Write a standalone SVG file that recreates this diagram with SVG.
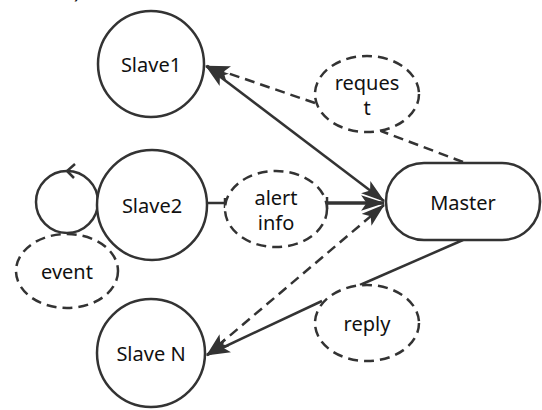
<svg xmlns="http://www.w3.org/2000/svg" width="542" height="410" viewBox="0 0 542 410">
<style>
.n{fill:#fff;stroke:#333;stroke-width:2.5}
.d{fill:#fff;stroke:#333;stroke-width:2.5;stroke-dasharray:10 6}
.t{font-family:"Noto Sans","Open Sans",sans-serif;font-size:20px;fill:#111;text-anchor:middle;dominant-baseline:central}
.c{fill:none;stroke:#333;stroke-width:2.5}
.cd{fill:none;stroke:#333;stroke-width:2.5;stroke-dasharray:10 6}
</style>
<defs>
<marker id="ah" markerUnits="userSpaceOnUse" markerWidth="24" markerHeight="16" refX="21" refY="7" orient="auto-start-reverse" viewBox="0 0 22 14">
<path d="M0,0 L22,7 L0,14 L5,7 Z" fill="#333"/>
</marker>
</defs>
<text x="77" y="-2" class="t" style="dominant-baseline:auto">)</text>
<g id="connectors">
<path class="c" d="M206,66 L384,201" marker-start="url(#ah)" marker-end="url(#ah)"/>
<path class="cd" d="M463,162 L381,131"/>
<path class="cd" d="M315,103 L207,66" marker-end="url(#ah)"/>
<path class="c" d="M204,203 L225,203 M225,198 L225,208"/>
<path class="c" d="M327,197 L327,209"/>
<path class="c" style="stroke-width:3.5" d="M327,203 L384,203" marker-end="url(#ah)"/>
<path class="cd" d="M384,205 L207,355" marker-start="url(#ah)" marker-end="url(#ah)"/>
<path class="c" d="M463,240 L360,285"/>
<path class="c" d="M322,301 L207,355" marker-end="url(#ah)"/>
<circle class="c" cx="67" cy="202" r="31"/>
<path class="c" d="M75,164 L67,171 L74,178"/>
</g>
<g id="slave1"><circle class="n" cx="151" cy="64" r="53"/><text class="t" x="151" y="64">Slave1</text></g>
<g id="slave2"><circle class="n" cx="152" cy="205" r="55"/><text class="t" x="152" y="205">Slave2</text></g>
<g id="slaveN"><circle class="n" cx="151" cy="353" r="54"/><text class="t" x="151" y="353">Slave N</text></g>
<g id="master"><rect class="n" x="386" y="163" width="154" height="77" rx="38" ry="38"/><text class="t" x="463" y="202">Master</text></g>
<g id="request"><ellipse class="d" cx="367" cy="94" rx="52" ry="38"/><text class="t" x="367" y="82">reques</text><text class="t" x="367" y="107">t</text></g>
<g id="alertinfo"><ellipse class="d" cx="276" cy="209" rx="51" ry="38"/><text class="t" x="276" y="197">alert</text><text class="t" x="276" y="222">info</text></g>
<g id="event"><ellipse class="d" cx="67" cy="271" rx="51" ry="37"/><text class="t" x="67" y="271">event</text></g>
<g id="reply"><ellipse class="d" cx="367" cy="323" rx="52" ry="38"/><text class="t" x="367" y="323">reply</text></g>
</svg>
